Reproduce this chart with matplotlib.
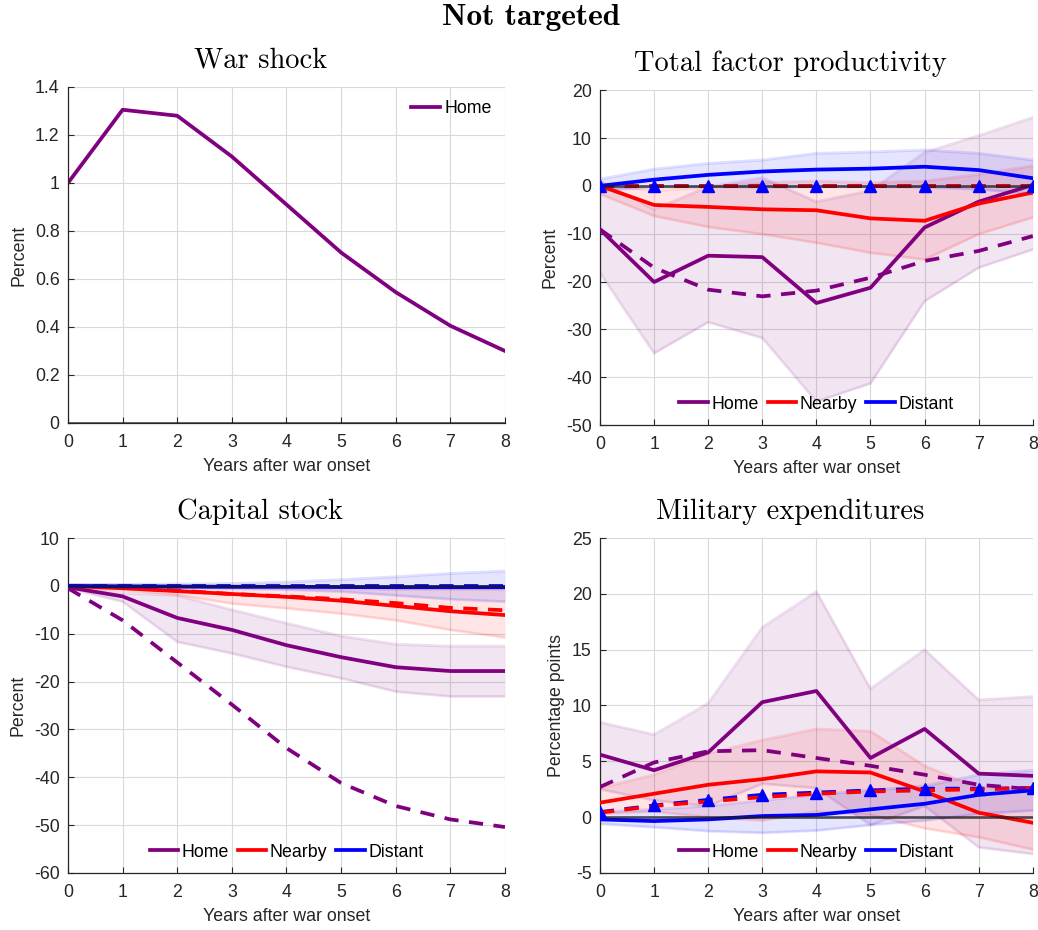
import numpy as np
import matplotlib
matplotlib.use('Agg')
import matplotlib.pyplot as plt
from matplotlib.ticker import FormatStrFormatter

plt.rcParams['font.family'] = ['Liberation Sans', 'DejaVu Sans']
plt.rcParams['axes.unicode_minus'] = False

years = np.arange(0, 9)

# war shock
shock_home = [1.0, 1.305, 1.28, 1.11, 0.91, 0.71, 0.545, 0.405, 0.30]

# total factor productivity (data = solid, model = dashed, bands = CI)
tfp_home = [-9.1, -20.1, -14.6, -14.9, -24.5, -21.3, -8.7, -3.3, 0.2]
tfp_home_lo = [-18.2, -35.0, -28.5, -31.8, -45.1, -41.3, -24.1, -17.1, -13.3]
tfp_home_hi = [1.0, -4.9, -0.2, 1.7, -3.3, -1.0, 7.0, 10.5, 14.3]
tfp_home_model = [-9.1, -17.1, -21.7, -23.1, -21.9, -19.2, -15.7, -13.6, -10.5]
tfp_near = [0.0, -4.0, -4.4, -4.9, -5.1, -6.8, -7.3, -3.7, -1.4]
tfp_near_lo = [-1.7, -6.3, -8.6, -10.1, -11.9, -14.0, -15.4, -10.1, -6.6]
tfp_near_hi = [0.3, -1.0, -0.3, 0.7, 1.0, 0.7, 1.0, 2.4, 4.2]
tfp_near_model = [0, 0, 0, 0, 0, 0, 0, 0, 0]
tfp_dist = [0.0, 1.3, 2.3, 3.0, 3.4, 3.6, 4.0, 3.3, 1.6]
tfp_dist_lo = [-1.0, -0.3, -0.2, -0.3, -0.2, -0.2, -0.3, -0.7, -1.7]
tfp_dist_hi = [1.4, 3.5, 4.7, 5.4, 6.8, 7.1, 7.5, 6.8, 5.4]
tfp_dist_model = [0, 0, 0, 0, 0, 0, 0, 0, 0]

# capital stock
cap_home = [-0.3, -2.2, -6.7, -9.2, -12.4, -14.9, -17.0, -17.8, -17.8]
cap_home_lo = [-0.5, -3.3, -11.7, -14.1, -16.9, -19.3, -22.1, -23.1, -23.1]
cap_home_hi = [0.0, -1.5, -2.0, -5.0, -7.8, -10.5, -12.2, -12.6, -12.6]
cap_home_model = [-0.5, -7.2, -16.0, -24.8, -33.9, -41.2, -46.0, -48.8, -50.4]
cap_near = [0.0, -0.5, -1.1, -1.7, -2.3, -3.1, -4.2, -5.3, -6.1]
cap_near_lo = [-0.3, -0.9, -1.9, -3.7, -4.7, -5.8, -7.2, -9.2, -10.8]
cap_near_hi = [0.3, 0.2, 0.0, -0.2, -0.4, -0.6, -0.8, -0.8, -0.8]
cap_near_model = [0.0, -0.4, -1.0, -1.7, -2.2, -2.8, -3.6, -4.6, -5.1]
cap_dist = [0.0, -0.1, -0.15, -0.2, -0.2, -0.25, -0.3, -0.3, -0.3]
cap_dist_lo = [-0.3, -0.4, -0.5, -0.6, -0.8, -1.2, -2.0, -2.8, -3.3]
cap_dist_hi = [0.3, 0.3, 0.4, 0.5, 0.8, 1.3, 1.9, 2.6, 3.1]
cap_dist_model = [0, 0, 0, 0, 0, 0, 0, 0, 0]

# military expenditures
mil_home = [5.6, 4.2, 5.8, 10.3, 11.3, 5.3, 7.9, 3.9, 3.7]
mil_home_lo = [2.5, 1.5, 1.0, 3.0, 2.6, -0.7, 1.0, -2.7, -3.3]
mil_home_hi = [8.5, 7.4, 10.2, 17.0, 20.2, 11.5, 15.0, 10.5, 10.8]
mil_home_model = [2.7, 4.9, 5.9, 6.0, 5.3, 4.6, 3.8, 2.9, 2.5]
mil_near = [1.3, 2.1, 2.9, 3.4, 4.1, 4.0, 2.3, 0.4, -0.5]
mil_near_lo = [0.3, 0.5, 0.0, -0.3, 0.5, 0.2, -1.0, -1.8, -2.9]
mil_near_hi = [2.6, 3.8, 5.7, 6.9, 7.9, 7.7, 4.6, 2.6, 2.5]
mil_near_model = [0.4, 1.0, 1.4, 1.8, 2.1, 2.3, 2.4, 2.5, 2.6]
mil_dist = [-0.2, -0.35, -0.2, 0.1, 0.2, 0.7, 1.2, 2.0, 2.4]
mil_dist_lo = [-0.6, -0.9, -1.25, -1.4, -1.2, -0.7, -0.3, 0.3, 0.6]
mil_dist_hi = [0.5, 0.7, 1.0, 1.5, 2.0, 2.4, 2.8, 3.8, 4.2]
mil_dist_model = [0.45, 1.05, 1.55, 2.0, 2.2, 2.4, 2.55, 2.55, 2.6]

purple = '#800080'
red = '#ff0000'
blue = '#0000ff'
lw = 2.7
dash = (3.8, 2.8)
fs = 12.8


def style_axes(ax, ylim, yticks, ylabel, title, fmt='%g'):
    ax.set_xlim(0, 8)
    ax.set_ylim(*ylim)
    ax.set_xticks(years)
    ax.set_yticks(yticks)
    ax.yaxis.set_major_formatter(FormatStrFormatter(fmt))
    ax.grid(True, color='#d9d9d9', lw=0.8)
    ax.set_axisbelow(True)
    for s in ['top', 'right']:
        ax.spines[s].set_visible(False)
    for s in ['left', 'bottom']:
        ax.spines[s].set_color('#262626')
        ax.spines[s].set_linewidth(0.9)
    ax.tick_params(direction='in', length=4, labelsize=fs, colors='#262626')
    ax.tick_params(axis='x', pad=8)
    ax.tick_params(axis='y', pad=6)
    ax.set_xlabel('Years after war onset', fontsize=fs, color='#262626', labelpad=5)
    ax.set_ylabel(ylabel, fontsize=fs, color='#262626', labelpad=5)
    # titles sit a little left of the axes centre, as in the original
    ax.set_title(title, family='cmr10', fontsize=20.5, pad=14, x=0.5 - 26 / 437)


def band(ax, lo, hi, c):
    ax.fill_between(years, lo, hi, color=c, alpha=0.1, lw=0)
    ax.plot(years, lo, color=c, alpha=0.12, lw=2)
    ax.plot(years, hi, color=c, alpha=0.12, lw=2)


def zero_line(ax):
    ax.axhline(0, color='#1a1a1a', alpha=0.7, lw=2, zorder=4)


fig = plt.figure(figsize=(10.38, 9.30), dpi=100)
ax1 = fig.add_axes([0.0655, 0.5452, 0.421, 0.3613])
ax2 = fig.add_axes([0.578, 0.5430, 0.417, 0.3600])
ax3 = fig.add_axes([0.0655, 0.0613, 0.421, 0.3602])
ax4 = fig.add_axes([0.578, 0.0613, 0.417, 0.3602])

# war shock
ax1.plot(years, shock_home, color=purple, lw=lw, label='Home')
zero_line(ax1)
style_axes(ax1, (0, 1.4), np.arange(0, 1.41, 0.2), 'Percent', 'War shock')
ax1.legend(loc='upper right', frameon=False, fontsize=fs, handlelength=1.6,
           handletextpad=0.25, borderaxespad=0.35)


def panel(ax, data, markers=None):
    for lo, hi, c in [(d[1], d[2], d[4]) for d in data]:
        band(ax, lo, hi, c)
    handles = []
    for vals, lo, hi, model, c, name in data[::-1]:
        ax.plot(years, model, color=c, lw=lw, dashes=dash, zorder=3)
    for vals, lo, hi, model, c, name in data:
        h, = ax.plot(years, vals, color=c, lw=lw, zorder=3, label=name)
        handles.append(h)
    zero_line(ax)
    if markers is not None:
        ax.plot(years, markers, ls='none', marker='^', color=blue, ms=9, zorder=5)
    ax.legend(handles=handles, loc='lower center', ncol=3, frameon=False,
              fontsize=fs, handlelength=1.6, columnspacing=0.5,
              handletextpad=0.2, borderaxespad=0.3)


panel(ax2, [(tfp_home, tfp_home_lo, tfp_home_hi, tfp_home_model, purple, 'Home'),
            (tfp_near, tfp_near_lo, tfp_near_hi, tfp_near_model, red, 'Nearby'),
            (tfp_dist, tfp_dist_lo, tfp_dist_hi, tfp_dist_model, blue, 'Distant')],
      markers=tfp_dist_model)
style_axes(ax2, (-50, 20), np.arange(-50, 21, 10), 'Percent', 'Total factor productivity')

panel(ax3, [(cap_home, cap_home_lo, cap_home_hi, cap_home_model, purple, 'Home'),
            (cap_near, cap_near_lo, cap_near_hi, cap_near_model, red, 'Nearby'),
            (cap_dist, cap_dist_lo, cap_dist_hi, cap_dist_model, blue, 'Distant')])
style_axes(ax3, (-60, 10), np.arange(-60, 11, 10), 'Percent', 'Capital stock')

panel(ax4, [(mil_home, mil_home_lo, mil_home_hi, mil_home_model, purple, 'Home'),
            (mil_near, mil_near_lo, mil_near_hi, mil_near_model, red, 'Nearby'),
            (mil_dist, mil_dist_lo, mil_dist_hi, mil_dist_model, blue, 'Distant')],
      markers=mil_dist_model)
style_axes(ax4, (-5, 25), np.arange(-5, 26, 5), 'Percentage points', 'Military expenditures')

fig.text(0.5115, 0.981, 'Not targeted', family='cmb10', fontsize=22.5, ha='center', va='center')

fig.savefig('out.png', dpi=100)
